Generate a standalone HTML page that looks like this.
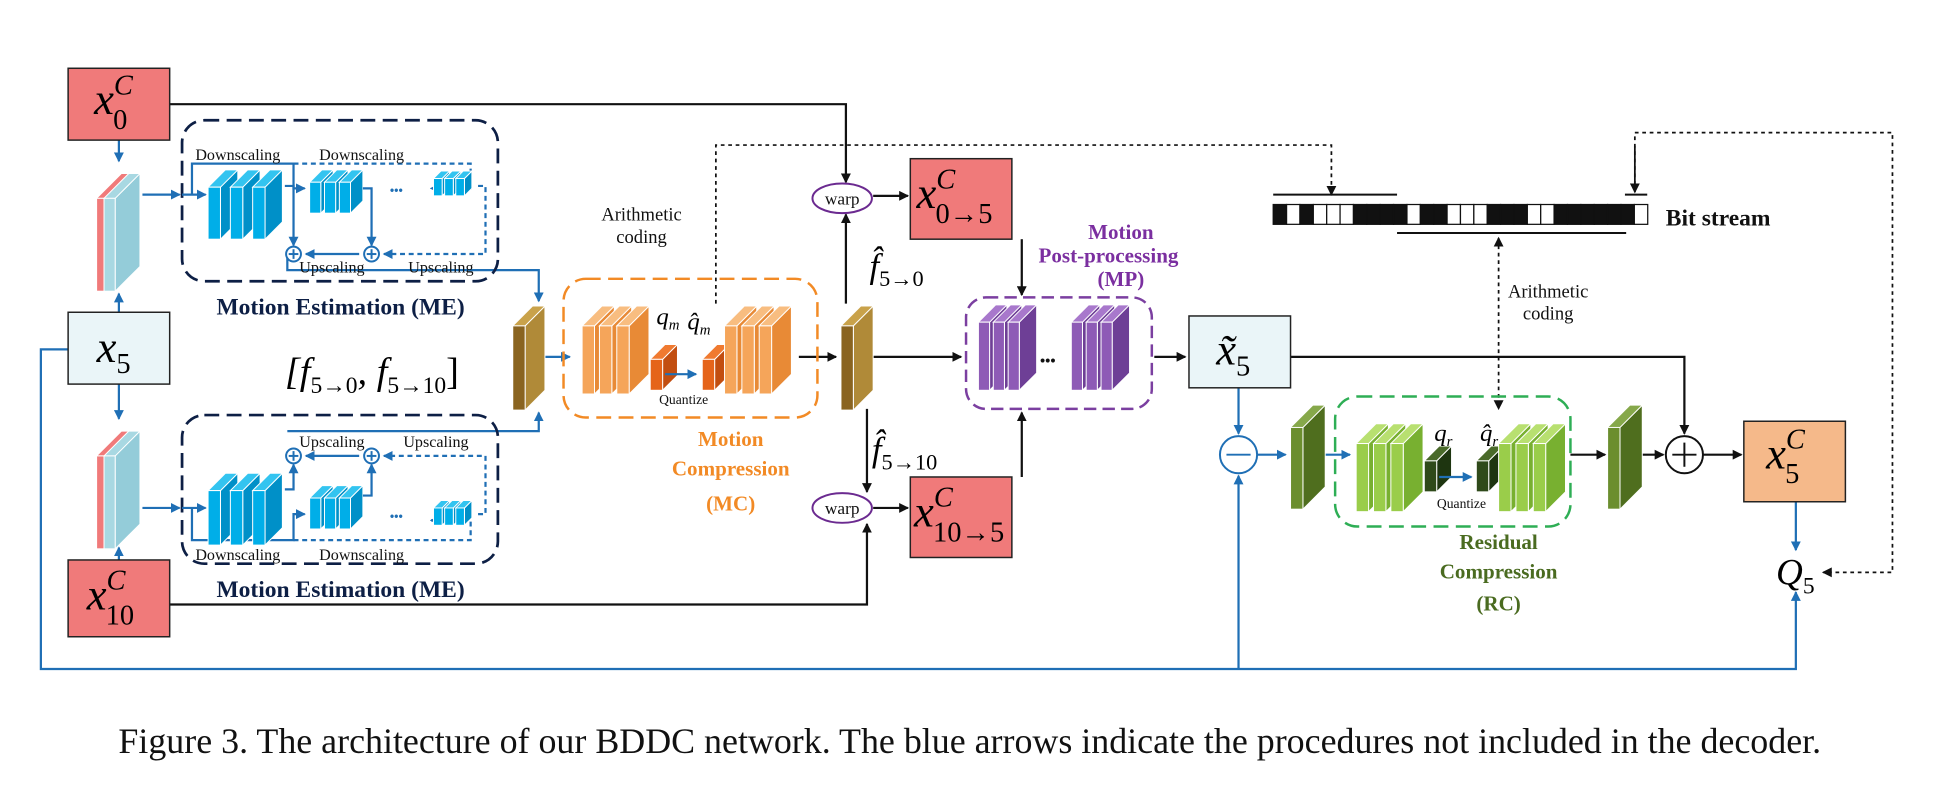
<!DOCTYPE html>
<html><head><meta charset="utf-8"><style>
html,body{margin:0;padding:0;background:#fff;}
svg{display:block;}
text{font-family:"Liberation Serif",serif;}
</style></head><body>
<svg id="s" width="1942" height="788" viewBox="0 0 1568 636" xmlns="http://www.w3.org/2000/svg">
<defs>
<marker id="ab" markerWidth="8" markerHeight="8" refX="7" refY="4" orient="auto" markerUnits="userSpaceOnUse"><path d="M0,0 L8,4 L0,8 z" fill="#1f6fb5"/></marker>
<marker id="ak" markerWidth="8" markerHeight="8" refX="7" refY="4" orient="auto" markerUnits="userSpaceOnUse"><path d="M0,0 L8,4 L0,8 z" fill="#111"/></marker>
<marker id="aks" markerWidth="8" markerHeight="8" refX="1" refY="4" orient="auto" markerUnits="userSpaceOnUse"><path d="M8,0 L0,4 L8,8 z" fill="#111"/></marker>
</defs>
<g id="g"></g>
</svg>
<script>
var g=document.getElementById('g'),NS='http://www.w3.org/2000/svg';
function el(t,a,txt){var e=document.createElementNS(NS,t);for(var k in a)e.setAttribute(k,a[k]);if(txt!==undefined)e.textContent=txt;g.appendChild(e);return e;}
var B='#1f6fb5',K='#111';
function L(pts,c,arrow,dash,w){var a={points:pts,fill:'none',stroke:c,'stroke-width':w||1.8};if(arrow)a['marker-end']='url(#'+(c==B?'ab':'ak')+')';if(dash)a['stroke-dasharray']=dash;return el('polyline',a);}
function slab(x,y,w,h,d,c,dk,lt){
 el('polygon',{points:(x+w)+','+y+' '+(x+w+d)+','+(y-d)+' '+(x+w+d)+','+(y+h-d)+' '+(x+w)+','+(y+h),fill:dk,stroke:'#fff','stroke-width':0.8});
 el('polygon',{points:x+','+y+' '+(x+d)+','+(y-d)+' '+(x+w+d)+','+(y-d)+' '+(x+w)+','+y,fill:lt||dk,stroke:'#fff','stroke-width':0.8});
 el('rect',{x:x,y:y,width:w,height:h,fill:c,stroke:'#fff','stroke-width':0.8});
}
function stack(xs,y,w,h,d,c,dk,lt){xs.forEach(function(x){slab(x,y,w,h,d,c,dk,lt);});}
function box(x,y,w,h,f){el('rect',{x:x,y:y,width:w,height:h,fill:f,stroke:'#222','stroke-width':1.2});}
function circ(x,y,r,c,sign){el('circle',{cx:x,cy:y,r:r,fill:'#fff',stroke:c,'stroke-width':1.6});el('line',{x1:x-r*0.65,y1:y,x2:x+r*0.65,y2:y,stroke:c,'stroke-width':1.6});if(sign=='+')el('line',{x1:x,y1:y-r*0.65,x2:x,y2:y+r*0.65,stroke:c,'stroke-width':1.6});}
function T(x,y,s,size,a,fill,weight,style){return el('text',{x:x,y:y,'font-size':size,'text-anchor':a||'middle',fill:fill||'#111','font-weight':weight||'normal','font-style':style||'normal'},s);}

/* connectors black */
L('137,84 683,84 683,147',K,1);
L('137,488 700,488 700,423',K,1);
L('705,158 733,158',K,1);
L('705,410 733,410',K,1);
L('683,245 683,173',K,1);
L('700,330 700,397',K,1);
L('825,193 825,238',K,1);
L('825,385 825,333',K,1);
L('705,288 776,288',K,1);
L('932,288 957,288',K,1);
L('1042,288 1360,288 1360,350',K,1);
L('645,288 675,288',K,1);
L('1268,367 1296,367',K,1);
L('1320,367 1343,367',K,1);
L('1375,367 1406,367',K,1);
/* dashed */
L('578,245 578,117 1075,117 1075,157',K,1,'3,3',1.4);
L('1320,155 1320,107 1528,107 1528,462 1472,462',K,1,'3,3',1.4);
el('polyline',{points:'1210,192 1210,330',fill:'none',stroke:K,'stroke-width':1.4,'stroke-dasharray':'3,3','marker-end':'url(#ak)','marker-start':'url(#aks)'});
el('polyline',{points:'1320,118 1320,155',fill:'none',stroke:K,'stroke-width':1.4,'marker-end':'url(#ak)'});
/* blue */
L('55,282 33,282 33,540 1450,540 1450,478',B,1);
L('1000,540 1000,384',B,1);
L('1000,313 1000,350',B,1);
L('1015,367 1038,367',B,1);
L('1450,405 1450,444',B,1);
L('1065,367 1090,367',B,1);
L('96,113 96,130',B,1);
L('96,252 96,237',B,1);
L('96,310 96,338',B,1);
L('96,452 96,442',B,1);
L('115,157 145,157',B,1);
L('115,410 145,410',B,1);
L('232,205 232,218 402,218 435,218 435,243',B,1);
L('232,348 402,348 435,348 435,333',B,1);
L('440,288 460,288',B,1);
L('478,302 500,302',B,1);

el('rect',{x:147,y:97,width:255,height:130,rx:18,fill:'none',stroke:'#0d1f45','stroke-width':2.2,'stroke-dasharray':'12,6'});
el('rect',{x:147,y:335,width:255,height:120,rx:18,fill:'none',stroke:'#0d1f45','stroke-width':2.2,'stroke-dasharray':'12,6'});
/* top inner */
L('147,157 166,157',B,1);
L('155,157 155,132 237,132 237,152 246,152',B,1);
L('237,132 380,132 380,152 348,152',B,1,'4,3');
stack([168,186,204],151,10,42,14,'#00aee8','#0090c8','#33c4f0');
stack([250,262,274],147,9,25,10,'#00aee8','#0090c8','#33c4f0');
stack([350,359,368],144,7,14,6,'#00aee8','#0090c8','#33c4f0');
T(320,157,'•••',10,'middle',B,'bold');
L('230,150 237,150 237,198',B,1);L('293,152 300,152 300,198',B,1);
L('386,150 392,150 392,205 310,205',B,1,'4,3');L('290,205 247,205',B,1);
circ(237,205,6,B,'+');circ(300,205,6,B,'+');
T(192,129,'Downscaling',13);T(292,129,'Downscaling',13);
T(268,220,'Upscaling',13);T(356,220,'Upscaling',13);
T(275,254,'Motion Estimation (ME)',19,'middle','#0d1f45','bold');
/* bottom inner */
L('147,410 166,410',B,1);
L('155,410 155,436 237,436 237,415 246,415',B,1);
L('237,436 380,436 380,420 348,420',B,1,'4,3');
stack([168,186,204],396,10,44,14,'#00aee8','#0090c8','#33c4f0');
stack([250,262,274],402,9,25,10,'#00aee8','#0090c8','#33c4f0');
stack([350,359,368],410,7,14,6,'#00aee8','#0090c8','#33c4f0');
T(320,420,'•••',10,'middle',B,'bold');
L('230,395 237,395 237,375',B,1);L('293,400 300,400 300,375',B,1);
L('386,415 392,415 392,368 310,368',B,1,'4,3');L('290,368 247,368',B,1);
circ(237,368,6,B,'+');circ(300,368,6,B,'+');
T(268,361,'Upscaling',13);T(352,361,'Upscaling',13);
T(192,452,'Downscaling',13);T(292,452,'Downscaling',13);
T(275,482,'Motion Estimation (ME)',19,'middle','#0d1f45','bold');

/* input stacks */
slab(78,160,6,75,20,'#f07a7a','#f07a7a','#f07a7a');slab(84,160,9,75,20,'#a8d8e2','#94ccd9','#a8d8e2');
slab(78,368,6,75,20,'#f07a7a','#f07a7a','#f07a7a');slab(84,368,9,75,20,'#a8d8e2','#94ccd9','#a8d8e2');

/* flow tensors */
slab(414,263,10,68,16,'#8a6420','#b08a38','#c9a24a');
slab(679,263,10,68,16,'#8a6420','#b08a38','#c9a24a');
el('text',{x:230,y:310,'font-size':31,'font-style':'italic'}).innerHTML='[<tspan>f</tspan><tspan font-size="19" dy="7" font-style="normal">5→0</tspan><tspan dy="-7">, f</tspan><tspan font-size="19" dy="7" font-style="normal">5→10</tspan><tspan dy="-7" font-style="normal">]</tspan>';

/* MC */
el('rect',{x:455,y:225,width:205,height:112,rx:18,fill:'none',stroke:'#f28a25','stroke-width':2,'stroke-dasharray':'12,6'});
stack([470,484,498],263,10,55,16,'#f5a55a','#e88a36','#f8bd80');
slab(525,290,10,25,12,'#e5641a','#c24e10','#f07a30');
slab(567,290,10,25,12,'#e5641a','#c24e10','#f07a30');
stack([585,599,613],263,10,55,16,'#f5a55a','#e88a36','#f8bd80');
L('537,302 562,302',B,1);
el('text',{x:530,y:262,'font-size':20,'font-style':'italic'}).innerHTML='q<tspan font-size="12" dy="4">m</tspan>';
el('text',{x:555,y:266,'font-size':20,'font-style':'italic'}).innerHTML='q̂<tspan font-size="12" dy="4">m</tspan>';
T(552,326,'Quantize',11);
T(590,360,'Motion',17,'middle','#f28a25','bold');T(590,384,'Compression',17,'middle','#f28a25','bold');T(590,412,'(MC)',17,'middle','#f28a25','bold');
T(518,178,'Arithmetic',15);T(518,196,'coding',15);

/* warps */
el('ellipse',{cx:680,cy:160,rx:24,ry:12,fill:'#fff',stroke:'#6b2a90','stroke-width':1.6});T(680,165,'warp',14);
el('ellipse',{cx:680,cy:410,rx:24,ry:12,fill:'#fff',stroke:'#6b2a90','stroke-width':1.6});T(680,415,'warp',14);
el('text',{x:702,y:224,'font-size':28,'font-style':'italic'}).innerHTML='f̂<tspan font-size="18" dy="7" font-style="normal">5→0</tspan>';
el('text',{x:704,y:372,'font-size':28,'font-style':'italic'}).innerHTML='f̂<tspan font-size="18" dy="7" font-style="normal">5→10</tspan>';

/* boxes */
box(55,55,82,58,'#f07a7a');box(55,252,82,58,'#eaf5f8');box(55,452,82,62,'#f07a7a');
box(735,128,82,65,'#f07a7a');box(735,385,82,65,'#f07a7a');
box(960,255,82,58,'#eaf5f8');box(1408,340,82,65,'#f5b98a');
function lab(x,y,sub,sup,tl){var t=el('text',{x:x,y:y,'font-size':36,'font-style':'italic'});t.innerHTML=(tl?'x̃':'x')+(sup?'<tspan font-size="23" dy="-16">'+sup+'</tspan><tspan font-size="23" dx="-16" dy="28" font-style="normal">'+sub+'</tspan>':'<tspan font-size="23" dy="9" font-style="normal">'+sub+'</tspan>');}
lab(76,92,'0','C');lab(78,292,'5');lab(70,492,'10','C');
lab(740,168,'0→5','C');lab(738,425,'10→5','C');lab(982,294,'5',0,1);lab(1426,378,'5','C');
el('text',{x:1434,y:472,'font-size':30,'font-style':'italic'}).innerHTML='Q<tspan font-size="19" dy="7" font-style="normal">5</tspan>';

/* MP */
el('rect',{x:780,y:240,width:150,height:90,rx:16,fill:'none',stroke:'#7b3fa0','stroke-width':2,'stroke-dasharray':'10,5'});
stack([790,802,814],260,9,55,14,'#8e5bb6','#6e3f96','#a878cc');
T(846,295,'•••',12,'middle','#111','bold');
stack([865,877,889],260,9,55,14,'#8e5bb6','#6e3f96','#a878cc');
T(905,193,'Motion',17,'middle','#7b2fa0','bold');T(895,212,'Post-processing',17,'middle','#7b2fa0','bold');T(905,231,'(MP)',17,'middle','#7b2fa0','bold');

/* minus / plus */
circ(1000,367,15,B,'-');circ(1360,367,15,K,'+');

/* RC */
slab(1042,345,10,66,18,'#6b8e2e','#4f6e1e','#86a84a');
el('rect',{x:1078,y:320,width:190,height:105,rx:18,fill:'none',stroke:'#2eae55','stroke-width':2,'stroke-dasharray':'12,6'});
stack([1095,1109,1123],358,10,55,16,'#9acd4a','#78b030','#b8e070');
slab(1150,372,10,25,12,'#2f4a1a','#1e3510','#4a6a2a');
slab(1192,372,10,25,12,'#2f4a1a','#1e3510','#4a6a2a');
stack([1210,1224,1238],358,10,55,16,'#9acd4a','#78b030','#b8e070');
L('1162,385 1188,385',B,1);
el('text',{x:1158,y:356,'font-size':20,'font-style':'italic'}).innerHTML='q<tspan font-size="12" dy="4">r</tspan>';
el('text',{x:1195,y:356,'font-size':20,'font-style':'italic'}).innerHTML='q̂<tspan font-size="12" dy="4">r</tspan>';
T(1180,410,'Quantize',11);
slab(1298,345,10,66,18,'#6b8e2e','#4f6e1e','#86a84a');
T(1210,443,'Residual',17,'middle','#4a6b20','bold');T(1210,467,'Compression',17,'middle','#4a6b20','bold');T(1210,493,'(RC)',17,'middle','#4a6b20','bold');
T(1250,240,'Arithmetic',15);T(1250,258,'coding',15);

/* bit stream */
var pat=[1,0,1,0,0,0,1,1,1,1,0,1,1,0,0,0,1,1,1,0,0,1,1,1,1,1,1,0];
var bx=1028,bw=10.8;
pat.forEach(function(p,i){el('rect',{x:bx+i*bw,y:165,width:bw,height:16,fill:p?'#111':'#fff',stroke:'#111','stroke-width':1});});
el('line',{x1:1028,y1:157,x2:1128,y2:157,stroke:K,'stroke-width':1.6});
el('line',{x1:1128,y1:188,x2:1313,y2:188,stroke:K,'stroke-width':1.6});
el('line',{x1:1312,y1:157,x2:1330,y2:157,stroke:K,'stroke-width':1.6});
T(1345,182,'Bit stream',19,'start','#111','bold');

/* caption */
T(783,608,'Figure 3. The architecture of our BDDC network. The blue arrows indicate the procedures not included in the decoder.',29);
</script>
</body></html>
